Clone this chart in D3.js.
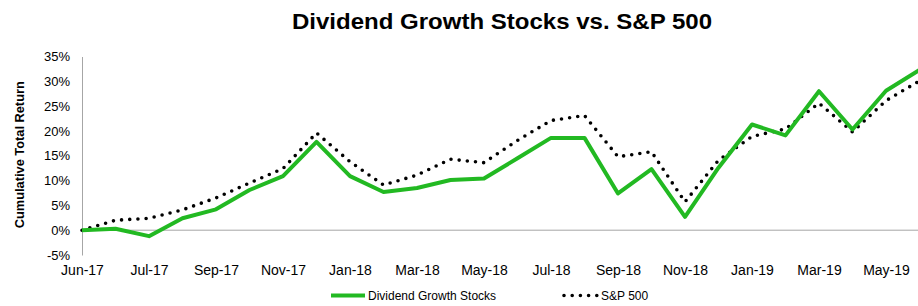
<!DOCTYPE html>
<meta charset='utf-8'>
<style>

body { margin: 0; background: #fff; }
svg { display: block; }
svg text { font-family: 'Liberation Sans', Arial, sans-serif; fill: #000; }
.title { font-size: 22px; font-weight: bold; }
.ylabel { font-size: 12.5px; font-weight: bold; }
.axis text { font-size: 13px; }
.axis-x text { font-size: 14px; }
.legend text { font-size: 12px; }
.axis path, .axis line { stroke: #a6a6a6; }
.div { fill: none; stroke: #22b922; stroke-width: 4; stroke-linejoin: round; }
.sp { fill: none; stroke: #000; stroke-width: 3.6; stroke-linecap: round; stroke-dasharray: 0 8.2; }

</style>

<script src='https://cdn.jsdelivr.net/npm/d3@7'></script>

<script>
window.onload = () => {
'use strict'

// Data - cumulative total return (%), monthly
// first two points are both "Jun-17" (start and end of month)
let months = ['Jun-17', 'Jun-17', 'Jul-17', 'Aug-17', 'Sep-17', 'Oct-17', 'Nov-17', 'Dec-17',
		'Jan-18', 'Feb-18', 'Mar-18', 'Apr-18', 'May-18', 'Jun-18', 'Jul-18', 'Aug-18',
		'Sep-18', 'Oct-18', 'Nov-18', 'Dec-18', 'Jan-19', 'Feb-19', 'Mar-19', 'Apr-19',
		'May-19', 'Jun-19'],
	div_growth = [0, 0.3, -1.2, 2.4, 4.2, 8.1, 10.9, 17.8, 10.9, 7.7, 8.5, 10.1, 10.4,
		14.5, 18.6, 18.6, 7.4, 12.3, 2.7, 12.6, 21.3, 19.1, 28.0, 20.3, 28.1, 32.3],
	sp500 = [0, 2.0, 2.4, 4.1, 6.5, 9.5, 12.4, 19.6, 13.8, 9.1, 11.1, 14.3, 13.6,
		18.1, 22.1, 23.1, 14.8, 15.8, 5.7, 14.1, 18.9, 20.4, 25.6, 19.8, 26.1, 30.1],
	y_ticks = [-5, 0, 5, 10, 15, 20, 25, 30, 35],
	series_names = ['Dividend Growth Stocks', 'S&P 500']

let width = 918, height = 306

let svg = d3.select('body')
	.append('svg')
		.attr('width', width)
		.attr('height', height)

// Scales - one month is ~33.5px, last point runs past the right edge
let x = d3.scaleLinear([0, 24], [82, 886]),
	y = d3.scaleLinear([-5, 35], [255, 56.5])

svg.append('text').attr('class', 'title')
	.attr('x', 502).attr('y', 29)
	.attr('text-anchor', 'middle')
	.attr('textLength', 420).attr('lengthAdjust', 'spacingAndGlyphs')
	.text('Dividend Growth Stocks vs. S&P 500')

svg.append('text').attr('class', 'ylabel')
	.attr('transform', `translate(24, ${y(15) - 1}) rotate(-90)`)
	.attr('text-anchor', 'middle')
	.attr('textLength', 147).attr('lengthAdjust', 'spacingAndGlyphs')
	.text('Cumulative Total Return')

// Y axis: plain vertical line, labels on the left
svg.append('g').attr('class', 'axis axis-y')
	.attr('transform', `translate(${x(0)},0)`)
	.call(d3.axisLeft(y).tickValues(y_ticks).tickSize(0).tickPadding(12)
		.tickFormat(d => `${d}%`))

// X axis: labels every other point, line drawn at 0%
let x_axis = svg.append('g').attr('class', 'axis axis-x')
	.attr('transform', `translate(0,${y(0)})`)
	.call(d3.axisBottom(x).tickValues(d3.range(0, 25, 2)).tickSize(0)
		.tickFormat(i => months[i]))
x_axis.select('.domain').attr('d', `M${x(0)},0H${width}`)
x_axis.selectAll('text').attr('y', y(-5) - y(0) + 20).attr('dy', 0)

// Lines
let line = d3.line().x((d, i) => x(i)).y(d => y(d))
svg.append('path').attr('class', 'sp').attr('d', line(sp500))
svg.append('path').attr('class', 'div').attr('d', line(div_growth))

// Legend
let legend = svg.append('g').attr('class', 'legend'),
	legend_items = [{name: series_names[0], cls: 'div', x: 330},
		{name: series_names[1], cls: 'sp', x: 563}]
legend_items.forEach(d => {
	legend.append('line').attr('class', d.cls)
		.attr('x1', d.x + 1).attr('x2', d.x + 35)
		.attr('y1', 295.5).attr('y2', 295.5)
	legend.append('text')
		.attr('x', d.x + 38).attr('y', 300)
		.text(d.name) })

}
</script>
